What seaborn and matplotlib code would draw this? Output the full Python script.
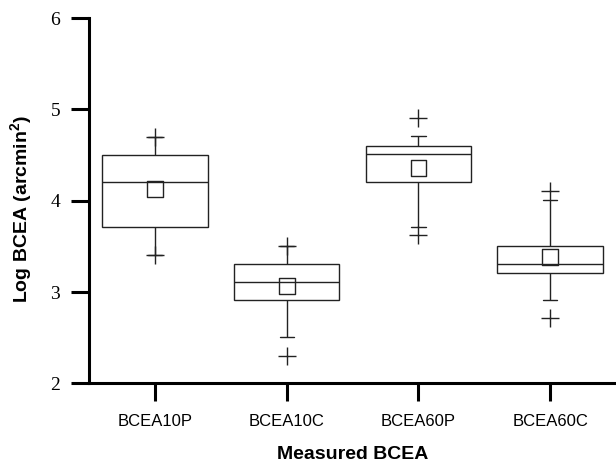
import numpy as np
import pandas as pd
import matplotlib
matplotlib.use("Agg")
import matplotlib.pyplot as plt
import seaborn as sns

# === Data ===
groups = ["BCEA10P", "BCEA10C", "BCEA60P", "BCEA60C"]
whisker_low = [3.40, 2.51, 3.71, 2.91]
q1 = [3.71, 2.91, 4.21, 3.21]
median = [4.21, 3.11, 4.51, 3.31]
q3 = [4.50, 3.31, 4.60, 3.50]
whisker_high = [4.70, 3.50, 4.71, 4.01]
means = [4.13, 3.07, 4.36, 3.38]
extreme_low = [3.40, 2.30, 3.62, 2.71]
extreme_high = [4.70, 3.50, 4.91, 4.11]
y_ticks = [2, 3, 4, 5, 6]

sns.set_style("ticks")
plt.rcParams["font.family"] = ["Liberation Sans", "DejaVu Sans"]
plt.rcParams["mathtext.fontset"] = "custom"
plt.rcParams["mathtext.bf"] = "Liberation Sans:bold"
plt.rcParams["mathtext.rm"] = "Liberation Sans"

# five summary values per group -> seaborn reproduces the box exactly
box_df = pd.DataFrame({
    "group": np.repeat(groups, 5),
    "value": np.column_stack([whisker_low, q1, median, q3, whisker_high]).ravel(),
})
mean_df = pd.DataFrame({"group": groups, "value": means})
ext_df = pd.DataFrame({
    "group": groups * 2,
    "value": extreme_low + extreme_high,
})

line_col = "#222222"

fig = plt.figure(figsize=(6.16, 4.66), dpi=100)
ax = fig.add_axes([0.145, 0.1775, 0.855, 0.7835])

sns.boxplot(data=box_df, x="group", y="value", order=groups, whis=(0, 100),
            width=0.8, color="white", linecolor=line_col, linewidth=1.0,
            saturation=1, capwidths=0.11, ax=ax)
sns.stripplot(data=mean_df, x="group", y="value", order=groups, jitter=False,
              marker="s", size=11.5, facecolor="none", edgecolor=line_col,
              linewidth=1.0, ax=ax, zorder=5)
sns.stripplot(data=ext_df, x="group", y="value", order=groups, jitter=False,
              marker="+", size=13, color=line_col, linewidth=1.0, ax=ax, zorder=5)

ax.set_ylim(2, 6)
ax.set_xlim(-0.5, 3.5)
ax.set_yticks(y_ticks)
ax.tick_params(axis="x", labelsize=12, length=13, width=2.2, pad=9,
               color="black", labelcolor="black")
ax.tick_params(axis="y", labelsize=14, labelfontfamily="Liberation Serif",
               length=13, width=2.2, pad=8, color="black", labelcolor="black")

for side in ["top", "right"]:
    ax.spines[side].set_visible(False)
for side in ["left", "bottom"]:
    ax.spines[side].set_linewidth(2.2)
    ax.spines[side].set_color("black")

ax.set_xlabel("Measured BCEA", fontsize=14, fontweight="bold", labelpad=12,
              color="black")
ax.set_ylabel(r"Log BCEA (arcmin$^{\mathbf{2}}$)", fontsize=14,
              fontweight="bold", color="black")
ax.yaxis.set_label_coords(-0.103, 0.477)

fig.savefig("out.png", dpi=100)
